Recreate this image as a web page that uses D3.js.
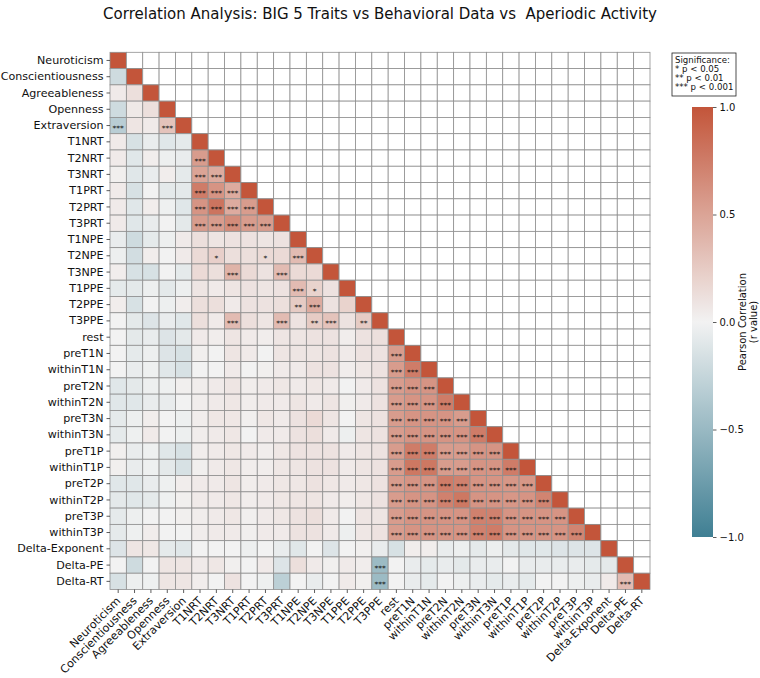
<!DOCTYPE html>
<html><head><meta charset="utf-8">
<script src="https://cdn.jsdelivr.net/npm/d3@7"></script>
<style>body{margin:0;background:#fff;} svg text{font-family:"DejaVu Sans",sans-serif;}</style>
</head><body><svg id="chart" width="760" height="678"></svg>
<script>
const chartTitle = "Correlation Analysis: BIG 5 Traits vs Behavioral Data vs  Aperiodic Activity";
const variables = ["Neuroticism","Conscientiousness","Agreeableness","Openness","Extraversion",
  "T1NRT","T2NRT","T3NRT","T1PRT","T2PRT","T3PRT","T1NPE","T2NPE","T3NPE","T1PPE","T2PPE","T3PPE",
  "rest","preT1N","withinT1N","preT2N","withinT2N","preT3N","withinT3N","preT1P","withinT1P",
  "preT2P","withinT2P","preT3P","withinT3P","Delta-Exponent","Delta-PE","Delta-RT"];
// lower triangle: row i holds r(i, j) for j < i
const corrLower = [
  [],
  [-0.20],
  [0.05,0.12],
  [-0.20,0.06,0.12],
  [-0.32,0.08,0.05,0.30],
  [0.05,-0.15,-0.05,-0.10,-0.07],
  [0.05,-0.10,0.03,-0.03,-0.05,0.55],
  [0.02,-0.10,-0.05,0.03,-0.07,0.50,0.45],
  [0.05,-0.15,0.00,-0.08,-0.08,0.75,0.60,0.45],
  [0.05,-0.10,0.03,-0.02,-0.10,0.60,0.80,0.45,0.55],
  [0.05,-0.10,-0.05,0.00,-0.08,0.55,0.55,0.65,0.55,0.55],
  [-0.05,-0.20,-0.07,-0.03,0.05,0.12,0.08,0.10,0.10,0.08,0.10],
  [-0.03,-0.18,0.03,0.00,0.05,0.15,0.22,0.12,0.12,0.15,0.15,0.35],
  [0.03,-0.15,-0.15,0.00,-0.07,0.15,0.12,0.40,0.15,0.10,0.35,0.15,0.15],
  [-0.07,-0.08,-0.03,-0.08,-0.03,0.08,0.05,0.08,0.10,0.08,0.10,0.35,0.20,0.10],
  [0.03,-0.15,0.00,-0.03,0.03,0.12,0.12,0.05,0.10,0.10,0.12,0.25,0.45,0.10,0.20],
  [0.00,-0.08,-0.12,-0.05,-0.10,0.12,0.05,0.35,0.12,0.08,0.35,0.10,0.25,0.30,0.10,0.25],
  [0.00,-0.08,-0.05,-0.12,-0.08,0.05,0.03,0.08,0.05,0.03,0.08,0.08,0.10,0.10,0.03,0.10,0.12],
  [0.00,-0.07,-0.03,-0.12,-0.15,0.02,0.00,0.08,0.05,0.00,0.08,0.08,0.08,0.10,0.05,0.10,0.10,0.55],
  [0.00,-0.05,-0.02,-0.10,-0.15,0.00,0.00,0.05,0.00,0.02,0.05,0.05,0.10,0.10,0.03,0.07,0.10,0.55,0.75],
  [-0.10,-0.08,-0.03,-0.02,0.02,0.03,0.05,0.08,0.03,0.05,0.07,0.05,0.07,0.05,0.00,0.05,0.10,0.55,0.60,0.60],
  [-0.10,-0.10,-0.05,-0.05,0.00,0.03,0.05,0.07,0.03,0.05,0.05,0.08,0.05,0.08,0.02,0.05,0.10,0.55,0.60,0.60,0.75],
  [-0.07,-0.03,0.03,0.00,-0.03,0.03,0.07,0.07,0.02,0.07,0.05,0.10,0.15,0.08,0.00,0.08,0.10,0.55,0.60,0.60,0.60,0.55],
  [-0.07,-0.02,0.05,0.00,-0.03,0.03,0.05,0.07,0.00,0.05,0.05,0.10,0.12,0.05,-0.03,0.08,0.10,0.55,0.60,0.60,0.60,0.60,0.75],
  [0.02,-0.05,-0.02,-0.10,-0.15,0.03,0.05,0.07,0.05,0.03,0.07,0.10,0.10,0.10,0.05,0.08,0.10,0.55,0.75,0.75,0.55,0.55,0.60,0.60],
  [0.02,-0.05,-0.02,-0.08,-0.15,0.02,0.05,0.07,0.03,0.03,0.07,0.08,0.10,0.10,0.05,0.08,0.10,0.55,0.78,0.78,0.55,0.55,0.60,0.60,0.75],
  [-0.10,-0.10,-0.05,-0.02,0.03,0.05,0.05,0.08,0.03,0.05,0.07,0.07,0.10,0.07,0.05,0.07,0.10,0.55,0.60,0.60,0.75,0.72,0.60,0.60,0.58,0.58],
  [-0.08,-0.10,-0.07,-0.02,0.02,0.05,0.05,0.07,0.03,0.05,0.07,0.08,0.08,0.05,0.03,0.07,0.10,0.55,0.60,0.60,0.72,0.78,0.60,0.60,0.58,0.60,0.70],
  [-0.07,-0.03,0.00,0.00,0.02,0.03,0.05,0.07,0.02,0.05,0.07,0.10,0.12,0.05,0.00,0.08,0.08,0.55,0.60,0.60,0.60,0.60,0.72,0.72,0.60,0.60,0.60,0.60],
  [-0.07,-0.02,0.03,0.00,0.00,0.03,0.05,0.05,0.02,0.05,0.05,0.10,0.10,0.05,-0.03,0.07,0.10,0.55,0.60,0.60,0.60,0.60,0.72,0.75,0.60,0.60,0.60,0.60,0.70],
  [-0.12,0.08,0.07,-0.07,-0.10,0.00,0.00,0.00,-0.03,0.00,-0.05,-0.10,0.00,-0.12,0.00,0.02,-0.05,-0.15,0.03,0.03,-0.05,-0.03,-0.07,-0.03,-0.08,-0.10,-0.10,-0.12,-0.12,-0.12],
  [0.00,-0.20,0.00,0.08,0.08,0.05,0.07,0.02,0.00,0.05,-0.12,0.12,0.05,0.02,0.05,0.03,-0.48,0.00,-0.05,-0.07,-0.05,-0.08,-0.05,-0.05,0.00,-0.05,-0.05,-0.05,-0.05,-0.07,-0.08],
  [-0.15,-0.03,-0.02,0.08,0.08,0.03,0.00,0.10,0.00,-0.02,-0.30,0.00,-0.05,0.00,0.05,0.02,-0.48,0.00,-0.05,-0.07,0.00,-0.03,-0.05,-0.07,-0.05,-0.07,0.00,0.00,-0.03,-0.05,0.05,0.35]
];
// significance markers [row, col, stars] outside the big EEG block
const sigMarks = [
  [4,0,"***"],[4,3,"***"],
  [6,5,"***"],[7,5,"***"],[7,6,"***"],[8,5,"***"],[8,6,"***"],[8,7,"***"],
  [9,5,"***"],[9,6,"***"],[9,7,"***"],[9,8,"***"],
  [10,5,"***"],[10,6,"***"],[10,7,"***"],[10,8,"***"],[10,9,"***"],
  [12,6,"*"],[12,9,"*"],[12,11,"***"],
  [13,7,"***"],[13,10,"***"],
  [14,11,"***"],[14,12,"*"],
  [15,11,"**"],[15,12,"***"],
  [16,7,"***"],[16,10,"***"],[16,12,"**"],[16,13,"***"],[16,15,"**"],
  [31,16,"***"],[32,16,"***"],[32,31,"***"]
];
// rows 18..29 vs columns 17..(row-1): all p < 0.001
const eegBlockRows = [18,19,20,21,22,23,24,25,26,27,28,29];
const eegBlockFirstCol = 17;
const colorbarTicks = [1.0, 0.5, 0.0, -0.5, -1.0];
const legendLines = ["Significance:", "* p < 0.05", "** p < 0.01", "*** p < 0.001"];
const colorbarLabel = ["Pearson Correlation", "(r value)"];

const svg = d3.select("#chart");
const L = 110, R = 650, T = 52.3, B = 589.5;
const x = d3.scaleBand().domain(variables).range([L, R]);
const y = d3.scaleBand().domain(variables).range([T, B]);
const color = d3.scaleLinear().domain([-1, 0, 1]).range(["#3f7f93", "#f2f2f2", "#c3553a"]).clamp(true);

// stars lookup
const stars = {};
sigMarks.forEach(([r, c, s]) => stars[r + "_" + c] = s);
eegBlockRows.forEach(r => { for (let c = eegBlockFirstCol; c < r; c++) stars[r + "_" + c] = "***"; });

const cells = [];
variables.forEach((rv, i) => variables.forEach((cv, j) => {
  let v = null;
  if (j < i) v = corrLower[i][j]; else if (j === i) v = 1;
  cells.push({ i, j, rv, cv, v, s: stars[i + "_" + j] || "" });
}));

const g = svg.append("g");
g.selectAll("rect.cell").data(cells).join("rect")
  .attr("class", "cell")
  .attr("x", d => x(d.cv)).attr("y", d => y(d.rv))
  .attr("width", x.bandwidth()).attr("height", y.bandwidth())
  .attr("fill", d => d.v === null ? "#ffffff" : color(d.v))
  .attr("stroke", "#8f8f8f").attr("stroke-width", 0.8);

g.selectAll("text.star").data(cells.filter(d => d.s)).join("text")
  .attr("class", "star")
  .attr("x", d => x(d.cv) + x.bandwidth() / 2)
  .attr("y", d => y(d.rv) + y.bandwidth() / 2 + 5.5)
  .attr("text-anchor", "middle")
  .attr("font-size", 7.5).attr("fill", "#111")
  .text(d => d.s);

// axes
const yAxis = svg.append("g").attr("transform", `translate(${L},0)`)
  .call(d3.axisLeft(y).tickSize(3.5).tickPadding(3));
yAxis.select(".domain").remove();
yAxis.selectAll(".tick line").attr("stroke", "#333").attr("stroke-width", 0.8);
yAxis.selectAll(".tick text").attr("font-size", 11.1).attr("fill", "#111")
  .style("font-family", "DejaVu Sans");

const xAxis = svg.append("g").attr("transform", `translate(0,${B})`)
  .call(d3.axisBottom(x).tickSize(3.5));
xAxis.select(".domain").remove();
xAxis.selectAll(".tick line").attr("stroke", "#333").attr("stroke-width", 0.8);
xAxis.selectAll(".tick text").attr("font-size", 11.1).attr("fill", "#111")
  .style("font-family", "DejaVu Sans")
  .attr("text-anchor", "end").attr("dy", null).attr("y", null)
  .attr("transform", "translate(3,12) rotate(-45)");

// title
svg.append("text").attr("x", 380).attr("y", 19).attr("text-anchor", "middle")
  .attr("xml:space", "preserve").style("white-space", "pre")
  .attr("font-size", 15).attr("fill", "#111").text(chartTitle);

// colorbar
const cbX = 692, cbW = 21, cbTop = 107, cbBot = 537;
const cb = d3.scaleLinear().domain([-1, 1]).range([cbBot, cbTop]);
const grad = svg.append("defs").append("linearGradient").attr("id", "cbgrad")
  .attr("x1", 0).attr("y1", 1).attr("x2", 0).attr("y2", 0);
d3.range(-1, 1.0001, 0.1).forEach(v => grad.append("stop")
  .attr("offset", (v + 1) / 2).attr("stop-color", color(v)));
svg.append("rect").attr("x", cbX).attr("y", cbTop).attr("width", cbW).attr("height", cbBot - cbTop)
  .attr("fill", "url(#cbgrad)");
const cbAxis = svg.append("g").attr("transform", `translate(${cbX + cbW},0)`)
  .call(d3.axisRight(cb).tickValues(colorbarTicks).tickSize(3.5).tickPadding(3)
    .tickFormat(d => d3.format(".1f")(d).replace("-", "\u2212")));
cbAxis.select(".domain").remove();
cbAxis.selectAll(".tick line").attr("stroke", "#333").attr("stroke-width", 0.8);
cbAxis.selectAll(".tick text").attr("font-size", 10).attr("fill", "#111").style("font-family", "DejaVu Sans");
colorbarLabel.forEach((t, k) => svg.append("text")
  .attr("transform", `translate(${746 + k * 11},322) rotate(-90)`)
  .attr("text-anchor", "middle").attr("font-size", 10).attr("fill", "#111").text(t));

// significance legend
svg.append("rect").attr("x", 672).attr("y", 53).attr("width", 64).attr("height", 43)
  .attr("fill", "#fff").attr("stroke", "#222").attr("stroke-width", 0.8);
legendLines.forEach((t, k) => svg.append("text").attr("x", 675).attr("y", 63 + k * 9)
  .attr("font-size", 8.6).attr("fill", "#111").text(t));
</script></body></html>
